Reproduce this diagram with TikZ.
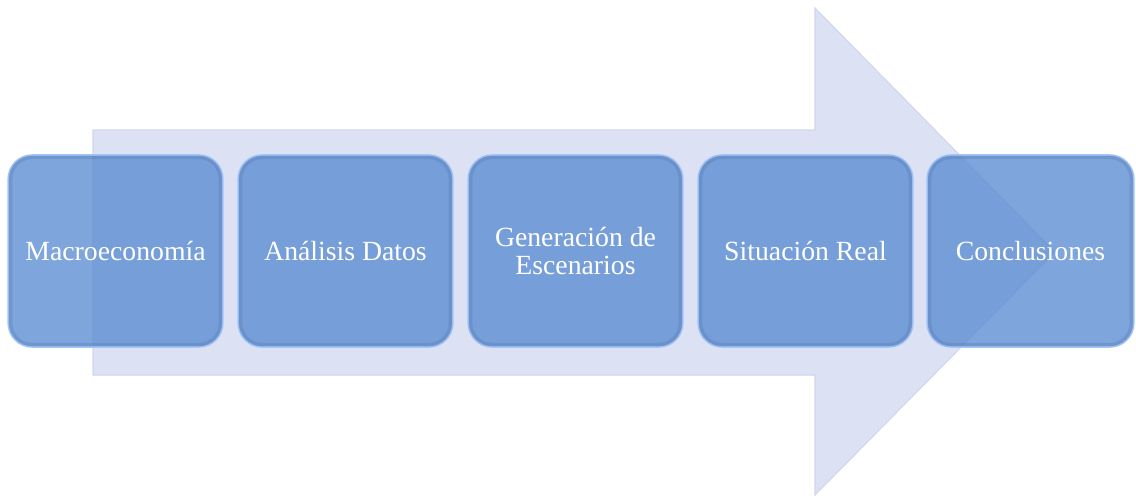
\documentclass[tikz,border=0pt]{standalone}
\usepackage{fontspec}
\setmainfont{Liberation Serif}
\definecolor{arrowfill}{HTML}{DCE1F3}
\definecolor{arrowline}{HTML}{D0D6EC}
\definecolor{boxfill}{HTML}{5A8CD2}
\definecolor{boxrim}{HTML}{9CC0F6}
\definecolor{boxshade}{HTML}{5C7FB8}
\begin{document}
\begin{tikzpicture}[x=0.75pt,y=-0.75pt,
  stepbox/.style={rectangle, rounded corners=18pt, minimum width=161pt, minimum height=144pt,
    fill=boxfill, fill opacity=0.78, draw=boxrim, draw opacity=0.9, line width=1.2pt,
    text=white, text opacity=1, align=center, inner sep=2pt,
    font=\fontsize{20.8}{20.3}\selectfont},
  bevel/.style={draw=boxshade, draw opacity=0.4, line width=2.5pt, rounded corners=16pt}]
\useasboundingbox (0,0) rectangle (1136,496);
% big arrow
\fill[arrowfill, draw=arrowline, line width=0.8pt]
  (93,130) coordinate (a1) -- (815,130) -- (815,8) -- (1055,252) coordinate (tip)
  -- (815,495) -- (815,375) -- (93,375) -- cycle;
% steps
\node[stepbox] (s1) at (115.5,251) {Macroeconomía};
\node[stepbox] (s2) at (345.5,251) {Análisis Datos};
\node[stepbox] (s3) at (575.5,251) {Generación de\\Escenarios};
\node[stepbox] (s4) at (805.5,251) {Situación Real};
\node[stepbox, minimum width=155pt] (s5) at (1030.5,251) {Conclusiones};
\foreach \n in {s1,s2,s3,s4,s5}{
  \draw[bevel] ([xshift=2.5pt,yshift=2.5pt]\n.south west) rectangle ([xshift=-2.5pt,yshift=-2.5pt]\n.north east);
}
\end{tikzpicture}
\end{document}
